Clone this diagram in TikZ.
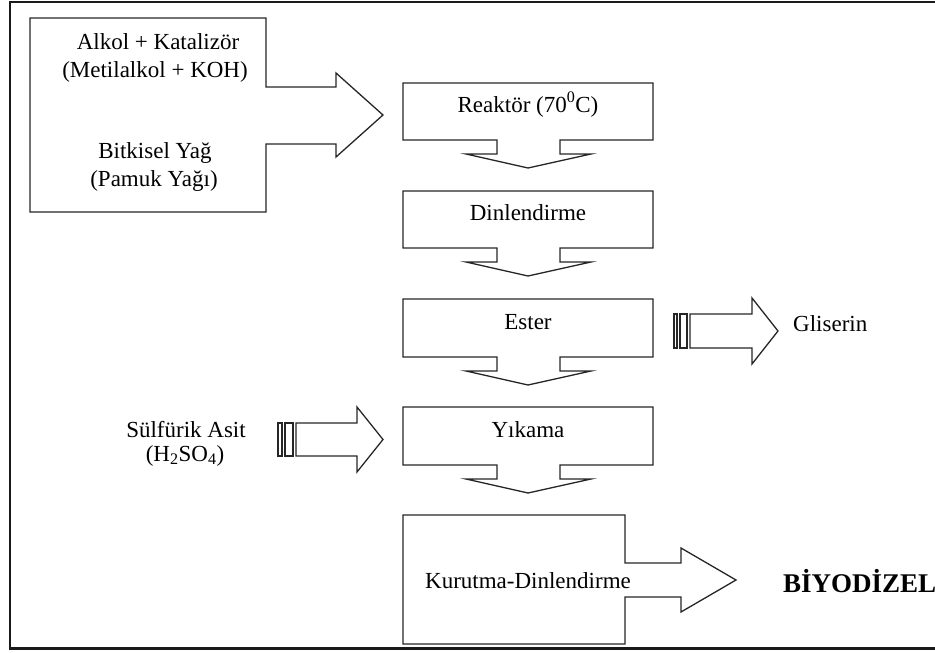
\documentclass[tikz,border=0pt]{standalone}
\usepackage{fontspec}
\setmainfont{Liberation Serif}
\begin{document}
\begin{tikzpicture}[x=1pt,y=-1pt,
  blk/.style={draw=black!85,line width=1.3pt,line join=miter,fill=white},
  lbl/.style={anchor=base,inner sep=0pt,font=\fontsize{23}{27}\selectfont},
  frm/.style={draw=black!90,line width=2.8pt}]
\useasboundingbox (0,0) rectangle (935,653);
% outer frame (right side lies outside the picture)
\draw[frm] (940,2) -- (10,2) -- (10,648.5) -- (940,648.5);

% input box with right arrow
\draw[blk] (30,18) -- (266,18) -- (266,87) -- (336,87) -- (336,73) -- (383,115)
  -- (336,157) -- (336,144) -- (266,144) -- (266,212) -- (30,212) -- cycle;
\node[lbl] (alkol) at (158,49) {Alkol + Katalizör};
\node[lbl] (metil) at (155,77) {(Metilalkol + KOH)};
\node[lbl] (bitki) at (155,158) {Bitkisel Yağ};
\node[lbl] (pamuk) at (154,186) {(Pamuk Yağı)};

% process boxes with down arrows
\foreach \t/\b in {83/140,191/248,299/357,407/465}{
  \draw[blk] (403,\t) -- (653,\t) -- (653,\b) -- (560,\b) -- (560,\b+14)
    -- (591,\b+14) -- (528,\b+28) -- (466,\b+14) -- (497,\b+14) -- (497,\b)
    -- (403,\b) -- cycle;
}
\node[lbl] (reaktor) at (528,112) {Reaktör (70\textsuperscript{0}C)};
\node[lbl] (dinlen) at (528,220) {Dinlendirme};
\node[lbl] (ester) at (528,329) {Ester};
\node[lbl] (yikama) at (528,437) {Yıkama};

% final box with right arrow
\draw[blk] (403,515) -- (625,515) -- (625,563) -- (681,563) -- (681,548) -- (736,580)
  -- (681,612) -- (681,597) -- (625,597) -- (625,644) -- (403,644) -- cycle;
\node[lbl] (kurutma) at (528,588) {Kurutma-Dinlendirme};
\node[anchor=base west,inner sep=0pt,font=\fontsize{27}{30}\selectfont\bfseries] (biyo) at (783,592) {BİYODİZEL};

% Gliserin striped arrow
\draw[blk] (674,314) rectangle (677,348);
\draw[blk] (680,314) rectangle (687,348);
\draw[blk] (690,314) -- (752,314) -- (752,298) -- (778,331) -- (752,364) -- (752,348) -- (690,348) -- cycle;
\node[lbl,anchor=base west] (glis) at (793,331) {Gliserin};

% Sulfuric acid striped arrow
\draw[blk] (278,423) rectangle (282,456);
\draw[blk] (285,423) rectangle (293,456);
\draw[blk] (296,423) -- (357,423) -- (357,407) -- (383,439.5) -- (357,472) -- (357,456) -- (296,456) -- cycle;
\node[lbl] (sulf) at (186,437) {Sülfürik Asit};
\node[lbl] (h2so4) at (185,461) {(H\textsubscript{2}SO\textsubscript{4})};
\end{tikzpicture}
\end{document}
